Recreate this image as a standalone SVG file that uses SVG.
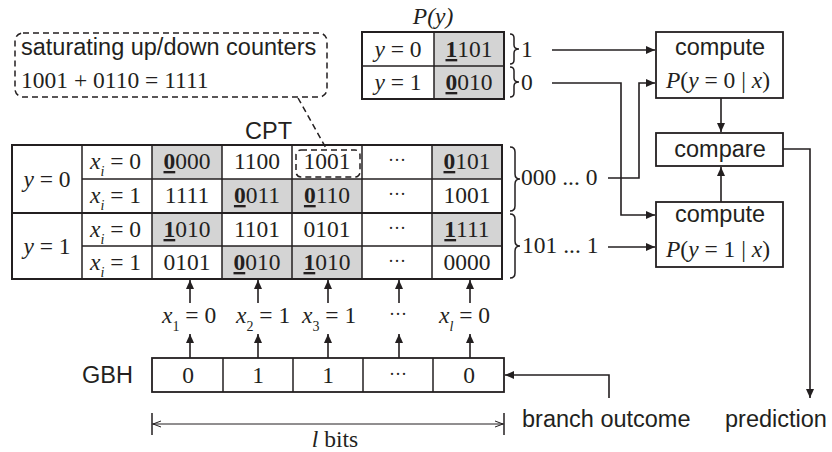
<svg xmlns="http://www.w3.org/2000/svg" width="832" height="452" viewBox="0 0 832 452">
<defs>
<marker id="ah" markerUnits="userSpaceOnUse" markerWidth="10" markerHeight="8" refX="9" refY="4" orient="auto"><path d="M0,0 L9,4 L0,8 z" fill="#231f20"/></marker>
<style>
.sans{font-family:"Liberation Sans",Arial,sans-serif;font-size:23.5px;fill:#231f20}
.serif{font-family:"Liberation Serif","Times New Roman",serif;font-size:23.5px;fill:#231f20}
.it{font-style:italic}
.c{text-anchor:middle}
.b{font-weight:bold;text-decoration:underline}
.sub{font-size:14px}
.box{fill:#fff;stroke:#231f20;stroke-width:1.8}
.sh{fill:#d4d4d4}
.ln{fill:none;stroke:#231f20;stroke-width:1.5}
.thick{fill:none;stroke:#231f20;stroke-width:2}
.dash{fill:none;stroke:#231f20;stroke-width:1.5;stroke-dasharray:6 4}
.con{fill:none;stroke:#231f20;stroke-width:1.6}
.dots{font-size:18px}
</style>
</defs>
<rect width="832" height="452" fill="#fff"/>

<g id="callout">
<rect class="dash" x="15" y="33" width="312" height="64" rx="8"/>
<text class="sans" x="21" y="55">saturating up/down counters</text>
<text class="serif" x="21" y="88">1001 + 0110 = 1111</text>
<line class="dash" x1="298" y1="98" x2="327" y2="150"/>
</g>

<g id="cpt">
<text class="sans" x="245" y="139">CPT</text>
<rect class="sh" x="152" y="145" width="70" height="34"/>
<rect class="sh" x="432" y="145" width="70" height="34"/>
<rect class="sh" x="222" y="179" width="140" height="34"/>
<rect class="sh" x="152" y="213" width="70" height="33"/>
<rect class="sh" x="432" y="213" width="70" height="33"/>
<rect class="sh" x="222" y="246" width="140" height="33"/>
<line class="ln" x1="82" y1="179" x2="502" y2="179"/>
<line class="ln" x1="82" y1="246" x2="502" y2="246"/>
<line class="thick" x1="12" y1="213" x2="502" y2="213" stroke-width="2.5"/>
<line class="ln" x1="82" y1="145" x2="82" y2="279"/>
<line class="ln" x1="152" y1="145" x2="152" y2="279"/>
<line class="ln" x1="222" y1="145" x2="222" y2="279"/>
<line class="ln" x1="292" y1="145" x2="292" y2="279"/>
<line class="ln" x1="362" y1="145" x2="362" y2="279"/>
<line class="ln" x1="432" y1="145" x2="432" y2="279"/>
<rect class="thick" x="12" y="145" width="490" height="134"/>
<rect class="dash" x="296" y="150" width="64" height="27" rx="5"/>
<text class="serif c" x="47" y="187"><tspan class="it">y</tspan> = 0</text>
<text class="serif c" x="47" y="254"><tspan class="it">y</tspan> = 1</text>
<text class="serif" x="90" y="169"><tspan class="it">x</tspan><tspan class="it sub" dy="7">i</tspan><tspan dy="-7"> = 0</tspan></text>
<text class="serif" x="90" y="203"><tspan class="it">x</tspan><tspan class="it sub" dy="7">i</tspan><tspan dy="-7"> = 1</tspan></text>
<text class="serif" x="90" y="237"><tspan class="it">x</tspan><tspan class="it sub" dy="7">i</tspan><tspan dy="-7"> = 0</tspan></text>
<text class="serif" x="90" y="270"><tspan class="it">x</tspan><tspan class="it sub" dy="7">i</tspan><tspan dy="-7"> = 1</tspan></text>
<text class="serif c" x="187" y="169"><tspan class="b">0</tspan>000</text>
<text class="serif c" x="257" y="169">1100</text>
<text class="serif c" x="327" y="169">1001</text>
<text class="serif c dots" x="397" y="166">···</text>
<text class="serif c" x="467" y="169"><tspan class="b">0</tspan>101</text>
<text class="serif c" x="187" y="203">1111</text>
<text class="serif c" x="257" y="203"><tspan class="b">0</tspan>011</text>
<text class="serif c" x="327" y="203"><tspan class="b">0</tspan>110</text>
<text class="serif c dots" x="397" y="200">···</text>
<text class="serif c" x="467" y="203">1001</text>
<text class="serif c" x="187" y="237"><tspan class="b">1</tspan>010</text>
<text class="serif c" x="257" y="237">1101</text>
<text class="serif c" x="327" y="237">0101</text>
<text class="serif c dots" x="397" y="234">···</text>
<text class="serif c" x="467" y="237"><tspan class="b">1</tspan>111</text>
<text class="serif c" x="187" y="270">0101</text>
<text class="serif c" x="257" y="270"><tspan class="b">0</tspan>010</text>
<text class="serif c" x="327" y="270"><tspan class="b">1</tspan>010</text>
<text class="serif c dots" x="397" y="267">···</text>
<text class="serif c" x="467" y="270">0000</text>
<path class="ln" d="M510,147 Q515,147 515,152 L515,174 Q515,179 520,179 Q515,179 515,184 L515,206 Q515,211 510,211"/>
<path class="ln" d="M510,214 Q515,214 515,219 L515,241 Q515,246 520,246 Q515,246 515,251 L515,273 Q515,278 510,278"/>
<text class="serif" x="521" y="185">000 ... 0</text>
<text class="serif" x="522" y="253">101 ... 1</text>
</g>

<g id="py">
<text class="serif it c" x="433" y="24">P(y)</text>
<rect class="sh" x="434" y="32" width="70" height="67"/>
<line class="ln" x1="362" y1="66" x2="504" y2="66"/>
<line class="ln" x1="434" y1="32" x2="434" y2="99"/>
<rect class="thick" x="362" y="32" width="142" height="67"/>
<text class="serif c" x="398" y="57"><tspan class="it">y</tspan> = 0</text>
<text class="serif c" x="398" y="90"><tspan class="it">y</tspan> = 1</text>
<text class="serif c" x="469" y="57"><tspan class="b">1</tspan>101</text>
<text class="serif c" x="469" y="90"><tspan class="b">0</tspan>010</text>
<path class="ln" d="M510,34 Q514,34 514,38 L514,45 Q514,49 519,49 Q514,49 514,53 L514,60 Q514,64 510,64"/>
<path class="ln" d="M510,67 Q514,67 514,71 L514,78 Q514,82 519,82 Q514,82 514,86 L514,93 Q514,97 510,97"/>
<text class="serif" x="521" y="57">1</text>
<text class="serif" x="521" y="90">0</text>
</g>

<g id="compute0">
<rect class="box" x="656" y="32" width="127" height="66"/>
<text class="sans c" x="720" y="55">compute</text>
<text class="serif c" x="718" y="88"><tspan class="it">P</tspan>(<tspan class="it">y</tspan> = 0 | <tspan class="it">x</tspan>)</text>
</g>
<g id="compare">
<rect class="box" x="656" y="133" width="127" height="33"/>
<text class="sans c" x="720" y="157">compare</text>
</g>
<g id="compute1">
<rect class="box" x="656" y="202" width="127" height="65"/>
<text class="sans c" x="720" y="222">compute</text>
<text class="serif c" x="718" y="257"><tspan class="it">P</tspan>(<tspan class="it">y</tspan> = 1 | <tspan class="it">x</tspan>)</text>
</g>

<g id="gbh">
<text class="sans" x="82" y="383">GBH</text>
<rect class="box" x="152" y="358" width="352" height="34"/>
<line class="ln" x1="223" y1="358" x2="223" y2="392"/>
<line class="ln" x1="293" y1="358" x2="293" y2="392"/>
<line class="ln" x1="363" y1="358" x2="363" y2="392"/>
<line class="ln" x1="433" y1="358" x2="433" y2="392"/>
<text class="serif c" x="188" y="383">0</text>
<text class="serif c" x="258" y="383">1</text>
<text class="serif c" x="328" y="383">1</text>
<text class="serif c dots" x="398" y="380">···</text>
<text class="serif c" x="469" y="383">0</text>
</g>

<g id="xlabels">
<text class="serif" x="162" y="323"><tspan class="it">x</tspan><tspan class="sub" dy="8">1</tspan><tspan dy="-8"> = 0</tspan></text>
<text class="serif" x="236" y="323"><tspan class="it">x</tspan><tspan class="sub" dy="8">2</tspan><tspan dy="-8"> = 1</tspan></text>
<text class="serif" x="302" y="323"><tspan class="it">x</tspan><tspan class="sub" dy="8">3</tspan><tspan dy="-8"> = 1</tspan></text>
<text class="serif c dots" x="398" y="320">···</text>
<text class="serif" x="439" y="323"><tspan class="it">x</tspan><tspan class="it sub" dy="8">l</tspan><tspan dy="-8"> = 0</tspan></text>
</g>

<g id="labels">
<text class="sans" x="522" y="427">branch outcome</text>
<text class="sans" x="725" y="427">prediction</text>
<text class="serif c" x="335" y="447"><tspan class="it">l</tspan> bits</text>
</g>

<g id="connectors">
<path class="con" d="M552,50 H655" marker-end="url(#ah)"/>
<path class="con" d="M552,83 H621 V215 H655" marker-end="url(#ah)"/>
<path class="con" d="M608,178 H639 V83 H655" marker-end="url(#ah)"/>
<path class="con" d="M608,247 H655" marker-end="url(#ah)"/>
<path class="con" d="M721,98 V132" marker-end="url(#ah)"/>
<path class="con" d="M721,202 V167" marker-end="url(#ah)"/>
<path class="con" d="M783,149 H810 V398" marker-end="url(#ah)"/>
<path class="con" d="M609,398 V375 H505" marker-end="url(#ah)"/>
<path class="con" d="M190,358 V334" marker-end="url(#ah)"/>
<path class="con" d="M258,358 V334" marker-end="url(#ah)"/>
<path class="con" d="M328,358 V334" marker-end="url(#ah)"/>
<path class="con" d="M399,358 V334" marker-end="url(#ah)"/>
<path class="con" d="M470,358 V334" marker-end="url(#ah)"/>
<path class="con" d="M190,303 V280" marker-end="url(#ah)"/>
<path class="con" d="M258,303 V280" marker-end="url(#ah)"/>
<path class="con" d="M328,303 V280" marker-end="url(#ah)"/>
<path class="con" d="M399,303 V280" marker-end="url(#ah)"/>
<path class="con" d="M470,303 V280" marker-end="url(#ah)"/>
<line x1="152" y1="424" x2="504" y2="424" stroke="#231f20" stroke-width="1"/>
<polyline points="161,421 153,424 161,427" fill="none" stroke="#231f20" stroke-width="1"/>
<polyline points="495,421 503,424 495,427" fill="none" stroke="#231f20" stroke-width="1"/>
<line x1="152" y1="413" x2="152" y2="435" stroke="#231f20" stroke-width="1.5"/>
<line x1="504" y1="413" x2="504" y2="435" stroke="#231f20" stroke-width="1.5"/>
</g>
</svg>
